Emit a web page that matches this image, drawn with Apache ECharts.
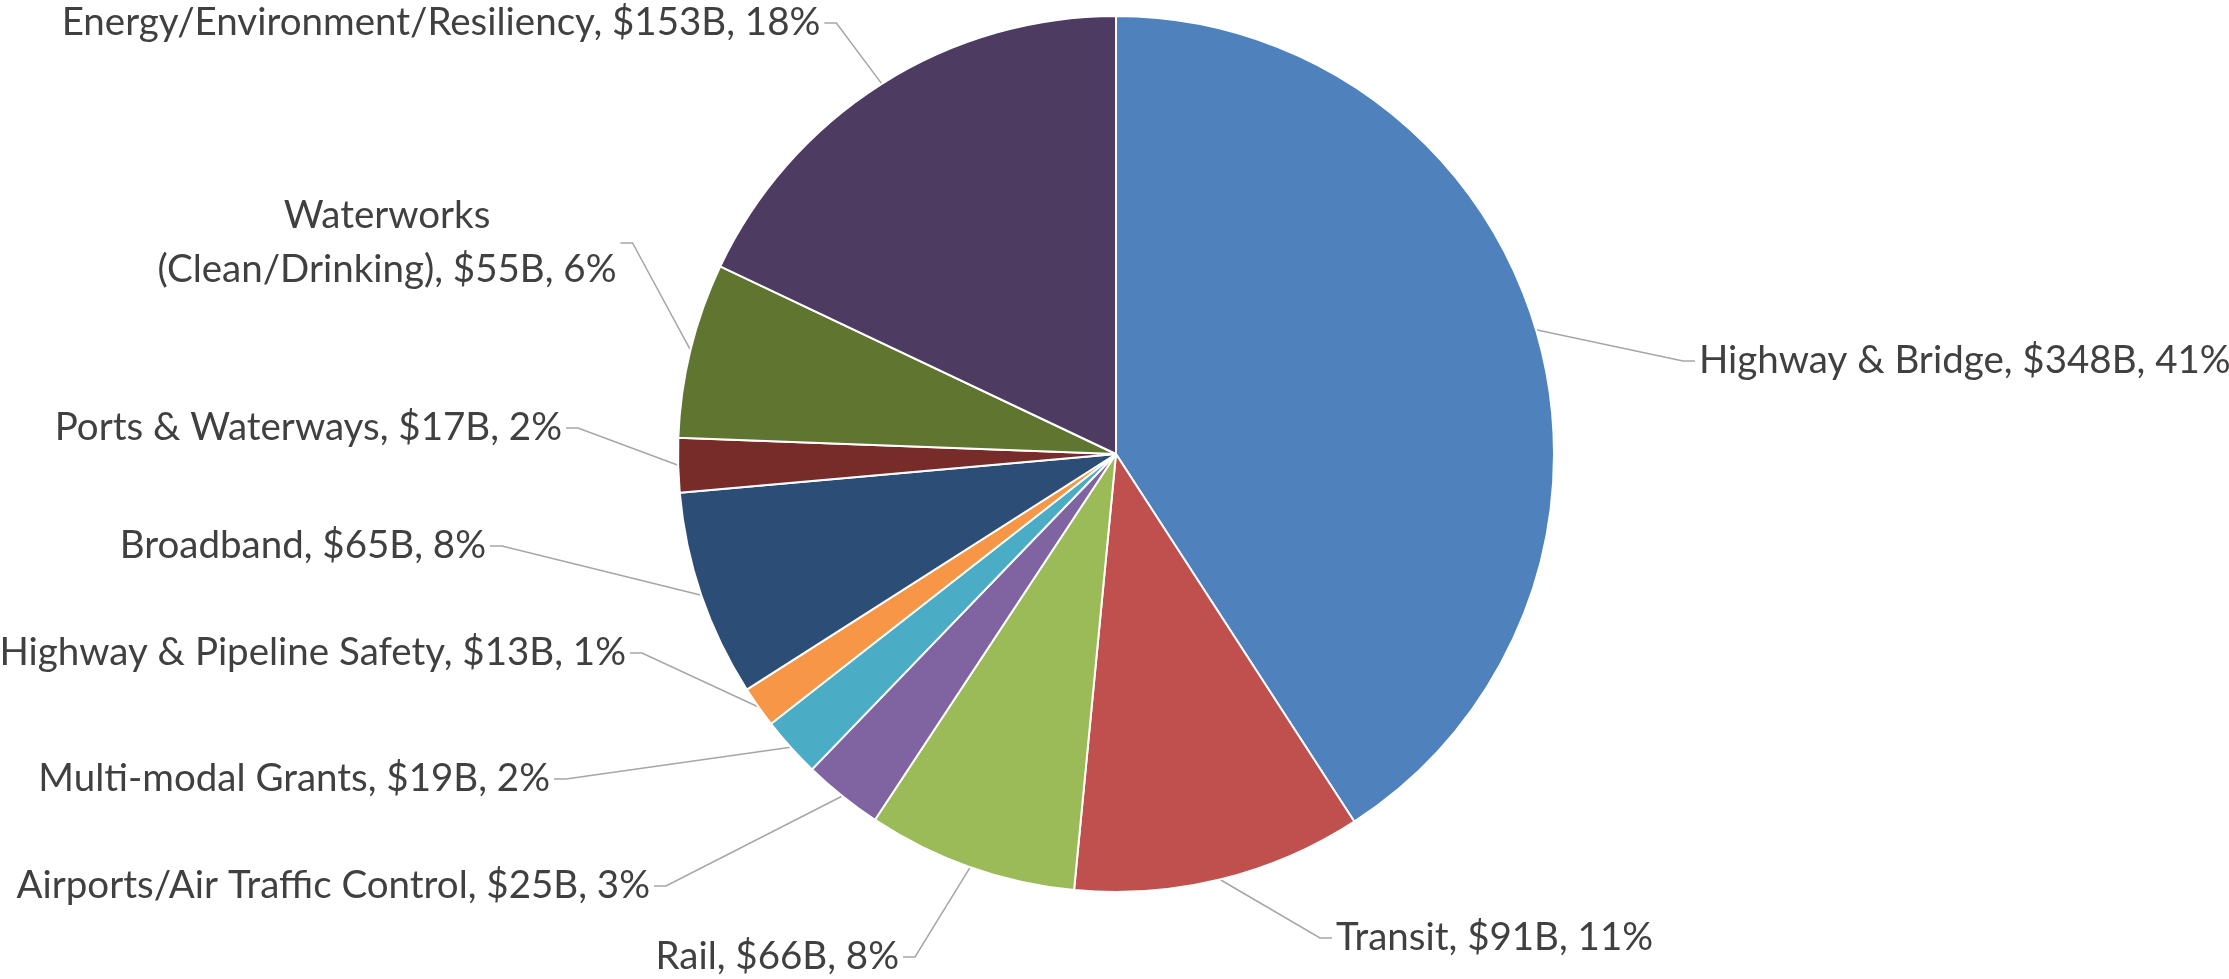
<!DOCTYPE html>
<html>
<head>
<meta charset="utf-8">
<script src="https://cdn.jsdelivr.net/npm/echarts@6/dist/echarts.min.js"></script>
<style>
  html, body { margin: 0; padding: 0; background: #fff; }
  #chart { width: 2229px; height: 979px; }
</style>
</head>
<body>
<div id="chart"></div>
<script>
// categories, clockwise from 12 o'clock
var names = [
  'Highway & Bridge',
  'Transit',
  'Rail',
  'Airports/Air Traffic Control',
  'Multi-modal Grants',
  'Highway & Pipeline Safety',
  'Broadband',
  'Ports & Waterways',
  'Waterworks\n(Clean/Drinking)',
  'Energy/Environment/Resiliency'
]
// $ billions
var values = [348, 91, 66, 25, 19, 13, 65, 17, 55, 153]

var colors = ['#4f81bd', '#c0504d', '#9bbb59', '#8064a2', '#4bacc6',
  '#f79646', '#2c4d75', '#772c2a', '#5f7530', '#4d3b62']

// where each label's text sits: [x, y, align]
var labelSpots = [
  [1695, 361, 'left'],
  [1332, 938, 'left'],
  [903, 957, 'right'],
  [654, 886, 'right'],
  [554, 779, 'right'],
  [630, 653, 'right'],
  [490, 546, 'right'],
  [566, 428, 'right'],
  [387, 243, 'center'],
  [441, 23, 'center']
]

var myChart = echarts.init(document.getElementById('chart'))
myChart.setOption({
  animation: false,
  color: colors,
  series: [
    {
      type: 'pie',
      center: [1116, 454],
      radius: 438,
      startAngle: 90,
      clockwise: true,
      percentPrecision: 0,
      data: names.map(function (n, i) {
        return { name: n, value: values[i] }
      }),
      itemStyle: {
        borderColor: '#fff',
        borderWidth: 2
      },
      label: {
        show: true,
        position: 'outside',
        formatter: '{b}, ${c}B, {d}%',
        fontFamily: 'Lato, sans-serif',
        fontSize: 38.5,
        lineHeight: 54,
        color: '#404040',
        // extra room below so the leader line meets the label low, like Excel
        padding: [0, 4, 30, 4]
      },
      labelLine: {
        show: true,
        length: 20,
        length2: 12,
        lineStyle: { color: '#a6a6a6', width: 1.5 }
      },
      labelLayout: function (params) {
        var s = labelSpots[params.dataIndex]
        return {
          x: s[0],
          y: s[1],
          align: s[2],
          verticalAlign: 'middle',
          hideOverlap: false,
          moveOverlap: null
        }
      }
    }
  ]
})
</script>
</body>
</html>
